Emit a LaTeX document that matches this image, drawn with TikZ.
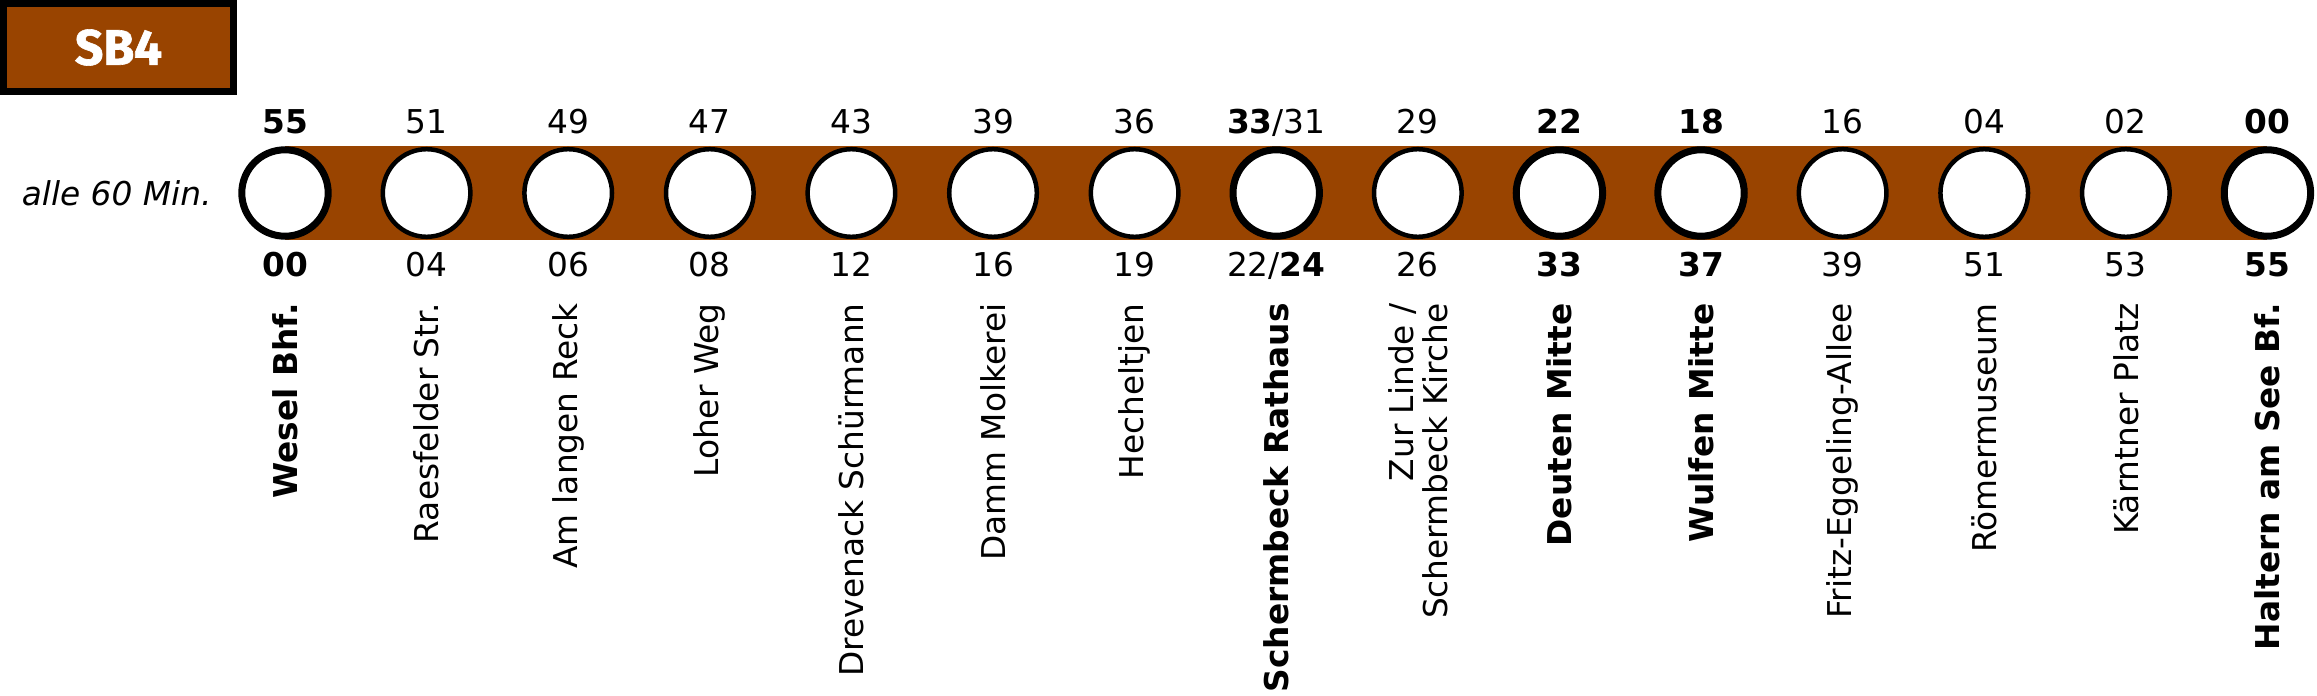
\documentclass[tikz,border=0pt]{standalone}
\usepackage{fontspec}
\setmainfont{DejaVu Sans}
\newfontfamily\routefont{Fira Sans}[BoldFeatures={FakeBold=1.2}]
\usepackage{tikz}
\usetikzlibrary{positioning}
\usepackage{xcolor}
\definecolor{sbbrown}{RGB}{153,68,0}
\newcommand{\lblsize}{\fontsize{16.4pt}{17pt}\selectfont}
\tikzset{
  routebox/.style={draw=black,line width=3.5pt,fill=sbbrown,minimum width=115pt,minimum height=44pt,
    inner sep=0pt,text=white,font=\routefont\fontsize{25pt}{25pt}\selectfont\bfseries},
  headway/.style={anchor=east,inner sep=0pt,font=\lblsize\itshape},
  stop/.style={circle,draw=black,line width=2.25pt,fill=white,minimum size=43.8pt,inner sep=0pt},
  stopmain/.style={stop,line width=3.5pt,minimum size=43.2pt},
  timetop/.style={anchor=base,inner sep=0pt,font=\lblsize},
  timetopm/.style={timetop,font=\lblsize\bfseries},
  timebot/.style={anchor=base,inner sep=0pt,font=\lblsize},
  timebotm/.style={timebot,font=\lblsize\bfseries},
  stopname/.style={rotate=90,anchor=east,inner sep=0pt,align=right,font=\lblsize},
  stopnamem/.style={stopname,font=\lblsize\bfseries}
}
\begin{document}
\begin{tikzpicture}[x=70.8pt,y=70.8pt]
  \useasboundingbox (-2.0127,1.363) rectangle (14.350,-3.552);
  \node[routebox] (route) at (-1.176,1.0275) {SB4};
  \node[headway] (freq) at (-0.516,0) {alle 60 Min.};
  % line band
  \fill[sbbrown] (0,-0.332) rectangle (14,0.332);
  % stops
  \node[stopmain] (wes) at (0,0) {};
  \node[stop] (rae) at (1,0) {};
  \node[stop] (alr) at (2,0) {};
  \node[stop] (loh) at (3,0) {};
  \node[stop] (dre) at (4,0) {};
  \node[stop] (dam) at (5,0) {};
  \node[stop] (hec) at (6,0) {};
  \node[stopmain] (srh) at (7,0) {};
  \node[stop] (zli) at (8,0) {};
  \node[stopmain] (deu) at (9,0) {};
  \node[stopmain] (wul) at (10,0) {};
  \node[stop] (fea) at (11,0) {};
  \node[stop] (roe) at (12,0) {};
  \node[stop] (kae) at (13,0) {};
  \node[stopmain] (hal) at (14,0) {};
  % times towards Wesel
  \node[timetopm] (wesup) at (0,0.417) {55};
  \node[timetop] (raeup) at (1,0.417) {51};
  \node[timetop] (alrup) at (2,0.417) {49};
  \node[timetop] (lohup) at (3,0.417) {47};
  \node[timetop] (dreup) at (4,0.417) {43};
  \node[timetop] (damup) at (5,0.417) {39};
  \node[timetop] (hecup) at (6,0.417) {36};
  \node[timetop] (srhup) at (7,0.417) {\textbf{33}/31};
  \node[timetop] (zliup) at (8,0.417) {29};
  \node[timetopm] (deuup) at (9,0.417) {22};
  \node[timetopm] (wulup) at (10,0.417) {18};
  \node[timetop] (feaup) at (11,0.417) {16};
  \node[timetop] (roeup) at (12,0.417) {04};
  \node[timetop] (kaeup) at (13,0.417) {02};
  \node[timetopm] (halup) at (14,0.417) {00};
  % times towards Haltern
  \node[timebotm] (wesdn) at (0,-0.593) {00};
  \node[timebot] (raedn) at (1,-0.593) {04};
  \node[timebot] (alrdn) at (2,-0.593) {06};
  \node[timebot] (lohdn) at (3,-0.593) {08};
  \node[timebot] (dredn) at (4,-0.593) {12};
  \node[timebot] (damdn) at (5,-0.593) {16};
  \node[timebot] (hecdn) at (6,-0.593) {19};
  \node[timebot] (srhdn) at (7,-0.593) {22/\textbf{24}};
  \node[timebot] (zlidn) at (8,-0.593) {26};
  \node[timebotm] (deudn) at (9,-0.593) {33};
  \node[timebotm] (wuldn) at (10,-0.593) {37};
  \node[timebot] (feadn) at (11,-0.593) {39};
  \node[timebot] (roedn) at (12,-0.593) {51};
  \node[timebot] (kaedn) at (13,-0.593) {53};
  \node[timebotm] (haldn) at (14,-0.593) {55};
  % stop names
  \node[stopnamem] (wesname) at (0,-0.777) {Wesel Bhf.};
  \node[stopname] (raename) at (1,-0.777) {Raesfelder Str.};
  \node[stopname] (alrname) at (2,-0.777) {Am langen Reck};
  \node[stopname] (lohname) at (3,-0.777) {Loher Weg};
  \node[stopname] (drename) at (4,-0.777) {Drevenack Schürmann};
  \node[stopname] (damname) at (5,-0.777) {Damm Molkerei};
  \node[stopname] (hecname) at (6,-0.777) {Hecheltjen};
  \node[stopnamem] (srhname) at (7,-0.777) {Schermbeck Rathaus};
  \node[stopname] (zliname) at (8,-0.777) {Zur Linde /\\Schermbeck Kirche};
  \node[stopnamem] (deuname) at (9,-0.777) {Deuten Mitte};
  \node[stopnamem] (wulname) at (10,-0.777) {Wulfen Mitte};
  \node[stopname] (feaname) at (11,-0.777) {Fritz-Eggeling-Allee};
  \node[stopname] (roename) at (12,-0.777) {Römermuseum};
  \node[stopname] (kaename) at (13,-0.777) {Kärntner Platz};
  \node[stopnamem] (halname) at (14,-0.777) {Haltern am See Bf.};
\end{tikzpicture}
\end{document}
